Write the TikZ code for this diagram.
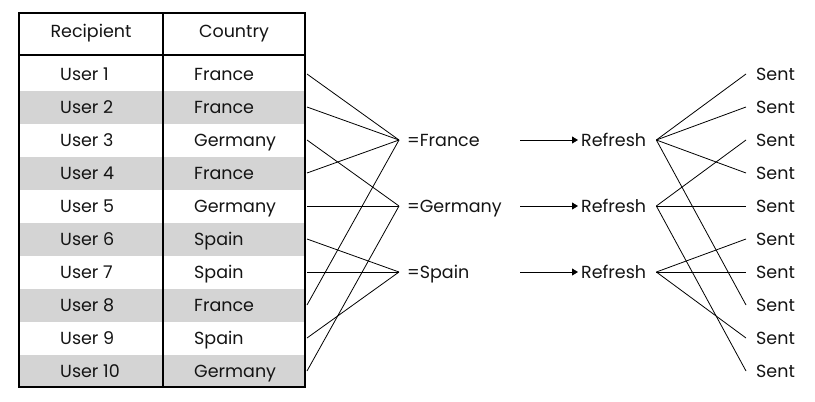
\documentclass[tikz,border=0pt]{standalone}
\usepackage{fontspec}
\setmainfont{Poppins}
\usetikzlibrary{arrows.meta,calc}
\begin{document}
\begin{tikzpicture}[x=1pt,y=-1pt,
  lbl/.style={inner xsep=0pt,inner ysep=0pt,text height=12.2pt,text depth=0pt,font=\fontsize{17.5}{20}\selectfont,text=black!92},
  wire/.style={line width=0.8pt,black},
  flow/.style={line width=0.8pt,black,-{Triangle[length=6pt,width=7pt]}}]
\useasboundingbox (0,0) rectangle (815,402);
% gray rows
\foreach \t in {91,157,223,289}
  \fill[black!17] (19,\t) rectangle (305,\t+33);
\fill[black!17] (19,355) rectangle (305,387);
% table frame
\draw[line width=1.2pt] (19,13) rectangle (305,387);
\draw[line width=1.2pt] (19,55) -- (305,55);
\draw[line width=1.6pt] (163,13) -- (163,387);
% headers
\node[lbl] (hR) at (91,31) {Recipient};
\node[lbl] (hC) at (234,31) {Country};
% rows
\foreach \i/\c in {1/France,2/France,3/Germany,4/France,5/Germany,6/Spain,7/Spain,8/France,9/Spain,10/Germany}{
  \node[lbl,anchor=west] (u\i) at (60,{74+33*(\i-1)}) {User \i};
  \node[lbl,anchor=west] (c\i) at (194,{74+33*(\i-1)}) {\c};
  \coordinate (o\i) at (307,{74+33*(\i-1)});
}
% filters
\node[lbl,anchor=west,inner xsep=8pt] (fF) at (399,140) {=France};
\node[lbl,anchor=west,inner xsep=8pt] (fG) at (399,206) {=Germany};
\node[lbl,anchor=west,inner xsep=8pt] (fS) at (399,272) {=Spain};
\foreach \i in {1,2,4,8} \draw[wire] (o\i) -- (fF.west);
\foreach \i in {3,5,10} \draw[wire] (o\i) -- (fG.west);
\foreach \i in {6,7,9} \draw[wire] (o\i) -- (fS.west);
% refresh
\foreach \k/\y in {1/140,2/206,3/272}{
  \node[lbl,anchor=west,inner xsep=3pt] (r\k) at (578,\y) {Refresh};
  \coordinate (a\k) at (520,\y);
  \coordinate (q\k) at ($(r\k.east)+(7,0)$);
  \draw[flow] (a\k) -- (r\k.west);
}
% sent
\foreach \i in {1,...,10}{
  \node[lbl,anchor=west] (s\i) at (756,{74+33*(\i-1)}) {Sent};
  \coordinate (e\i) at ($(s\i.west)+(-10,0)$);
}
\foreach \i in {1,2,4,8} \draw[wire] (q1) -- (e\i);
\foreach \i in {3,5,10} \draw[wire] (q2) -- (e\i);
\foreach \i in {6,7,9} \draw[wire] (q3) -- (e\i);
\end{tikzpicture}
\end{document}
